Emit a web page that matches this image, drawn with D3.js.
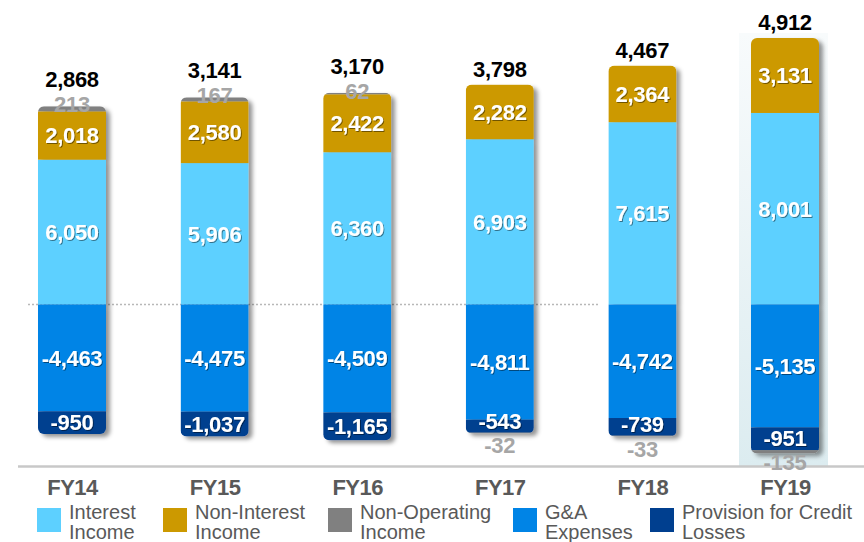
<!DOCTYPE html>
<html>
<head>
<meta charset="utf-8">
<script src="https://cdn.jsdelivr.net/npm/d3@7"></script>
<style>
  html, body { margin: 0; padding: 0; background: #ffffff; }
  svg { display: block; font-family: "Liberation Sans", Arial, sans-serif; }
</style>
</head>
<body>
<svg id="chart" width="864" height="542"></svg>
<script>
const categories = ["FY14", "FY15", "FY16", "FY17", "FY18", "FY19"];
const interestIncome = [6050, 5906, 6360, 6903, 7615, 8001];
const nonInterestIncome = [2018, 2580, 2422, 2282, 2364, 3131];
const nonOperatingIncome = [213, 167, 62, -32, -33, -135];
const gaExpenses = [-4463, -4475, -4509, -4811, -4742, -5135];
const provisionLosses = [-950, -1037, -1165, -543, -739, -951];
const totals = [2868, 3141, 3170, 3798, 4467, 4912];

const seriesNames = ["Interest Income", "Non-Interest Income", "Non-Operating Income", "G&A Expenses", "Provision for Credit Losses"];
const legendLines = [["Interest", "Income"], ["Non-Interest", "Income"], ["Non-Operating", "Income"], ["G&A", "Expenses"], ["Provision for Credit", "Losses"]];
const colors = ["#5dd0ff", "#cc9900", "#808080", "#0084e6", "#003f8f"];
const highlight = "FY19";

const svg = d3.select("#chart");
const defs = svg.append("defs");

const shadow = defs.append("filter").attr("id", "barShadow")
  .attr("x", "-20%").attr("y", "-10%").attr("width", "150%").attr("height", "130%");
shadow.append("feDropShadow").attr("dx", 4).attr("dy", 3).attr("stdDeviation", 2)
  .attr("flood-color", "#000").attr("flood-opacity", 0.42);

const txtShadow = defs.append("filter").attr("id", "txtShadow")
  .attr("x", "-20%").attr("y", "-30%").attr("width", "140%").attr("height", "160%");
txtShadow.append("feDropShadow").attr("dx", 1).attr("dy", 1).attr("stdDeviation", 0.6)
  .attr("flood-color", "#000").attr("flood-opacity", 0.45);

const grad = defs.append("linearGradient").attr("id", "hlGrad")
  .attr("x1", 0).attr("y1", 0).attr("x2", 0).attr("y2", 1);
grad.append("stop").attr("offset", "0%").attr("stop-color", "#f8fbfc");
grad.append("stop").attr("offset", "100%").attr("stop-color", "#dcecf0");

const x = d3.scalePoint().domain(categories).range([72, 785]);
const barW = 68;
const y = d3.scaleLinear().domain([0, 11132]).range([304.5, 38]);

// highlight background
svg.append("rect")
  .attr("x", x(highlight) - 46).attr("width", 89)
  .attr("y", 33).attr("height", 466 - 33)
  .attr("fill", "url(#hlGrad)");

// dotted zero line
svg.append("line")
  .attr("x1", 28).attr("x2", 600)
  .attr("y1", y(0)).attr("y2", y(0))
  .attr("stroke", "#b8b8b8").attr("stroke-width", 1.5)
  .attr("stroke-dasharray", "2,2");

// build stacks
const data = categories.map((c, i) => {
  const segs = [];
  let pos = 0, neg = 0;
  const add = (s, v) => {
    if (v >= 0) { segs.push({ s, v, y0: pos, y1: pos + v }); pos += v; }
    else { segs.push({ s, v, y0: neg, y1: neg + v }); neg += v; }
  };
  add(0, interestIncome[i]);
  add(1, nonInterestIncome[i]);
  add(3, gaExpenses[i]);
  add(4, provisionLosses[i]);
  add(2, nonOperatingIncome[i]);
  return { c, i, segs, top: pos, bottom: neg };
});

// baseline axis (drawn under labels)
svg.append("line").attr("x1", 18).attr("x2", 864)
  .attr("y1", 466.5).attr("y2", 466.5)
  .attr("stroke", "#c8c8c8").attr("stroke-width", 2.5);

const bars = svg.append("g").selectAll("g.bar").data(data).join("g")
  .attr("class", "bar")
  .attr("filter", "url(#barShadow)");

bars.each(function (d) {
  const id = "clip" + d.i;
  defs.append("clipPath").attr("id", id).append("rect")
    .attr("x", x(d.c) - barW / 2).attr("width", barW)
    .attr("y", y(d.top)).attr("height", y(d.bottom) - y(d.top))
    .attr("rx", 6).attr("ry", 6);
  const g = d3.select(this).append("g").attr("clip-path", `url(#${id})`);
  g.selectAll("rect").data(d.segs).join("rect")
    .attr("x", x(d.c) - barW / 2).attr("width", barW)
    .attr("y", s => y(Math.max(s.y0, s.y1)))
    .attr("height", s => Math.abs(y(s.y0) - y(s.y1)))
    .attr("fill", s => colors[s.s]);
});

const locale = d3.formatLocale({ decimal: ".", thousands: ",", grouping: [3], currency: ["$", ""], minus: "-" });
const fmt = locale.format(",");
const labels = svg.append("g").attr("font-weight", "bold").attr("font-size", 22)
  .attr("text-anchor", "middle").attr("letter-spacing", "-0.3");

data.forEach(d => {
  d.segs.forEach(s => {
    if (s.s === 2) {
      const base = s.v >= 0 ? y(d.top) + 6 : Math.min(y(d.bottom) + 20, 470);
      labels.append("text").attr("x", x(d.c)).attr("y", base)
        .attr("fill", "#a6a6a6").text(fmt(s.v));
    } else {
      let cy = (y(s.y0) + y(s.y1)) / 2;
      if (s.s === 4) cy = Math.min(cy, y(s.y1) - 12);
      labels.append("text").attr("x", x(d.c))
        .attr("y", cy).attr("dy", "0.36em")
        .attr("fill", "#ffffff").attr("filter", "url(#txtShadow)")
        .text(fmt(s.v));
    }
  });
  const nonOp = nonOperatingIncome[d.i];
  const totBase = nonOp > 0 ? y(d.top) - 19 : y(d.top) - 8;
  labels.append("text").attr("x", x(d.c)).attr("y", totBase)
    .attr("fill", "#000000").text(fmt(totals[d.i]));
});

// category axis labels
const xAxis = d3.axisBottom(x).tickSize(0).tickPadding(0);
const ax = svg.append("g").attr("transform", "translate(0,479.5)").call(xAxis);
ax.select(".domain").remove();
ax.selectAll("text")
  .attr("font-family", "'Liberation Sans', Arial, sans-serif")
  .attr("font-size", 22).attr("font-weight", "bold")
  .attr("fill", "#595959").attr("letter-spacing", "-0.5")
  .attr("dy", "0.72em");

// legend
const legendX = [37, 163, 328, 513, 650];
const lg = svg.append("g");
seriesNames.forEach((n, i) => {
  const g = lg.append("g").attr("transform", `translate(${legendX[i]},508)`);
  g.append("rect").attr("width", 24).attr("height", 24).attr("fill", colors[i]);
  const t = g.append("text").attr("x", 32).attr("font-size", 20).attr("fill", "#595959");
  legendLines[i].forEach((l, k) => {
    t.append("tspan").attr("x", 32).attr("y", 11 + k * 20).text(l);
  });
});
</script>
</body>
</html>
